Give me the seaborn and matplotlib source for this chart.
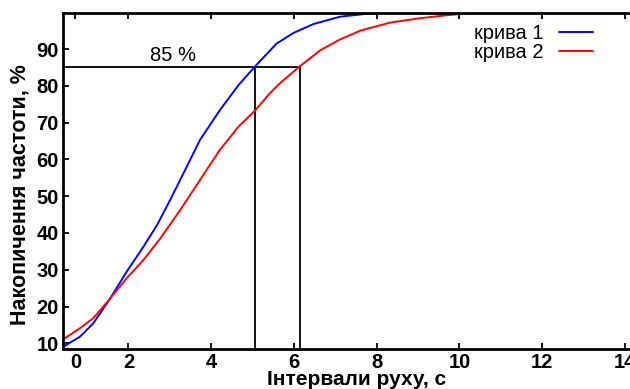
import matplotlib
matplotlib.use("Agg")
import matplotlib.pyplot as plt
import numpy as np
import pandas as pd
import seaborn as sns

# curve 1 (blue)
x_curve1 = [0.43, 0.83, 1.15, 1.56, 1.96, 2.36, 2.69, 3.01, 3.33, 3.73, 4.21,
            4.66, 5.07, 5.58, 5.99, 6.47, 7.11, 7.84, 8.9]
y_curve1 = [9.1, 11.8, 15.4, 22.2, 29.5, 36.2, 42.1, 49.0, 56.2, 65.3, 73.4,
            80.2, 85.4, 91.5, 94.4, 96.8, 98.8, 99.7, 100.0]

# curve 2 (red)
x_curve2 = [0.43, 0.83, 1.15, 1.56, 1.96, 2.36, 2.77, 3.25, 3.73, 4.21, 4.66,
            5.07, 5.42, 5.66, 6.15, 6.64, 7.11, 7.6, 8.32, 9.05, 9.69, 10.17, 10.6]
y_curve2 = [11.1, 14.1, 16.8, 22.2, 27.7, 32.6, 38.5, 46.2, 54.4, 62.6, 68.9,
            73.4, 78.0, 80.7, 85.4, 89.7, 92.6, 95.0, 97.2, 98.4, 99.2, 99.7, 100.0]

labels = ["крива 1", "крива 2"]
level = 85
level_x = [5.07, 6.15]   # where each curve reaches 85 %
x_ticks = [0, 2, 4, 6, 8, 10, 12, 14]
y_ticks = [10, 20, 30, 40, 50, 60, 70, 80, 90]

df = pd.concat([
    pd.DataFrame({"x": x_curve1, "y": y_curve1, "curve": labels[0]}),
    pd.DataFrame({"x": x_curve2, "y": y_curve2, "curve": labels[1]}),
])

sns.set_style("ticks")
plt.rcParams["font.family"] = ["Liberation Sans", "DejaVu Sans"]
for key in ["text.color", "axes.labelcolor", "xtick.color", "ytick.color"]:
    plt.rcParams[key] = "black"

fig = plt.figure(figsize=(6.3, 3.89), dpi=100)
ax = fig.add_axes([0.1, 0.1028, 0.9, 0.8646])

sns.lineplot(data=df, x="x", y="y", hue="curve", palette={labels[0]: "blue", labels[1]: "red"},
             sort=False, estimator=None, linewidth=1.4, ax=ax)

# 85 % guide lines
ax.plot([0.42, level_x[1]], [level, level], color="black", lw=1.3, zorder=1)
for xv in level_x:
    ax.plot([xv, xv], [8.45, level], color="black", lw=1.3, zorder=1)
ax.text(3.08, level + 0.6, f"{level} %", fontsize=14.5, ha="center", va="bottom")

ax.set_xlim(0.42, 14.12)
ax.set_ylim(8.45, 99.9)

# the "0" label sits a bit right of where 0 would be in the original
ax.set_xticks([0.72] + x_ticks[1:])
ax.set_xticklabels([str(t) for t in x_ticks], fontweight="bold", fontsize=14.5)
t0 = ax.xaxis.get_major_ticks()[0]
t0.tick1line.set_visible(False)
t0.tick2line.set_visible(False)
ax.set_yticks(y_ticks)
ax.set_yticklabels([str(t) for t in y_ticks], fontweight="bold", fontsize=14.5)
ax.tick_params(axis="x", direction="in", top=True, length=4, width=1.3, pad=3)
ax.tick_params(axis="y", direction="in", length=4, width=1.3, pad=3)

for side in ["left", "bottom", "top"]:
    ax.spines[side].set_linewidth(2)
    ax.spines[side].set_color("black")
ax.spines["right"].set_visible(False)

ax.set_xlabel("Інтервали руху, с", fontweight="bold", fontsize=15)
ax.set_ylabel("Накопичення частоти, %", fontweight="bold", fontsize=15.5)
ax.xaxis.set_label_coords(0.517, -0.062)
ax.yaxis.set_label_coords(-0.058, 0.458)

ax.legend(loc="upper right", bbox_to_anchor=(603 / 630, 1 - 14 / 389),
          bbox_transform=fig.transFigure, frameon=False, markerfirst=False,
          fontsize=14.5, handlelength=1.7, handletextpad=0.75, labelspacing=0.0,
          borderpad=0, title=None)

fig.savefig("out.png", dpi=100)
